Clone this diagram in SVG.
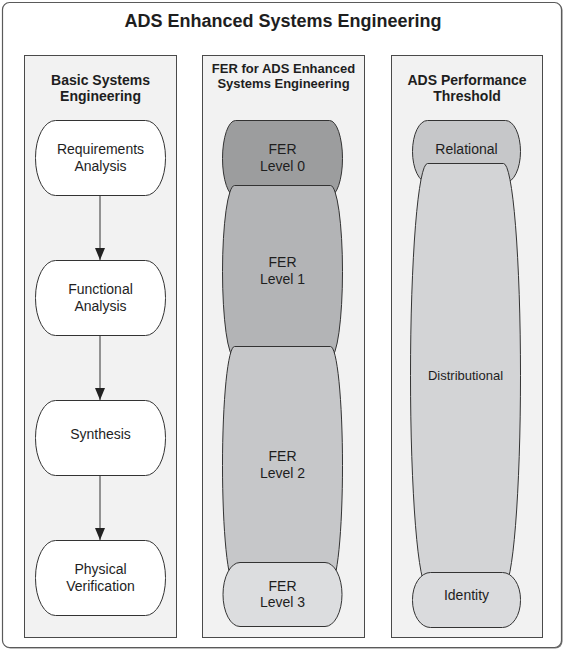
<svg xmlns="http://www.w3.org/2000/svg" width="566" height="650" viewBox="0 0 566 650">
<defs>
<style>
text{font-family:"Liberation Sans",Arial,sans-serif;fill:#1e1e1e;text-anchor:middle}
.title{font-size:18px;font-weight:bold}
.hdr{font-size:14px;font-weight:bold}
.hdr13{font-size:13px;font-weight:bold}
.lbl{font-size:14px}
.sm{font-size:14px}
.xs{font-size:13px}
.panel{fill:#f2f2f2;stroke:#4a4a4a;stroke-width:1}
.node{stroke:#333;stroke-width:1}
.conn{stroke:#333;stroke-width:1;fill:none;marker-end:url(#arr)}
</style>
<marker id="arr" viewBox="0 0 12 10" refX="12" refY="5" markerWidth="12" markerHeight="10" markerUnits="userSpaceOnUse" orient="auto">
<path d="M0,0 L12,5 L0,10 z" fill="#222"/>
</marker>
</defs>
<rect x="3.5" y="3.5" width="559" height="645" rx="7" fill="#7a7a7a"/>
<rect x="2.5" y="2.5" width="559" height="645" rx="7" fill="#ffffff" stroke="#5a5a5a" stroke-width="1.2"/>
<text class="title" x="283" y="27">ADS Enhanced Systems Engineering</text>

<g id="panel-basic">
<rect class="panel" x="24.5" y="55.5" width="152" height="582"/>
<text class="hdr" x="100.5" y="85">Basic Systems</text>
<text class="hdr" x="100.5" y="101">Engineering</text>
</g>
<g id="panel-fer">
<rect class="panel" x="202.5" y="55.5" width="162" height="582"/>
<text class="hdr13" x="283.5" y="73">FER for ADS Enhanced</text>
<text class="hdr13" x="283.5" y="88">Systems Engineering</text>
</g>
<g id="panel-ads">
<rect class="panel" x="391.5" y="55.5" width="151" height="582"/>
<text class="hdr" x="467" y="85">ADS Performance</text>
<text class="hdr" x="467" y="101">Threshold</text>
</g>

<g id="connectors">
<line class="conn" x1="100" y1="195" x2="100" y2="260"/>
<line class="conn" x1="100" y1="335" x2="100" y2="400"/>
<line class="conn" x1="100" y1="475" x2="100" y2="540"/>
</g>

<g id="req">
<rect class="node" x="35.5" y="120.5" width="130" height="75" rx="20" ry="37" fill="#fff"/>
<text class="lbl" x="100.5" y="154">Requirements</text>
<text class="lbl" x="100.5" y="171">Analysis</text>
</g>
<g id="func">
<rect class="node" x="35.5" y="260.5" width="130" height="75" rx="20" ry="37" fill="#fff"/>
<text class="lbl" x="100.5" y="294">Functional</text>
<text class="lbl" x="100.5" y="311">Analysis</text>
</g>
<g id="synth">
<rect class="node" x="35.5" y="400.5" width="130" height="75" rx="20" ry="37" fill="#fff"/>
<text class="lbl" x="100.5" y="439">Synthesis</text>
</g>
<g id="phys">
<rect class="node" x="35.5" y="540.5" width="130" height="75" rx="20" ry="37" fill="#fff"/>
<text class="lbl" x="100.5" y="574">Physical</text>
<text class="lbl" x="100.5" y="591">Verification</text>
</g>

<g id="fer0">
<rect class="node" x="222.5" y="120.5" width="120" height="76" rx="13" ry="38" fill="#9c9d9e"/>
<text class="sm" x="282.5" y="154">FER</text>
<text class="sm" x="282.5" y="171">Level 0</text>
</g>
<g id="fer1">
<rect class="node" x="222.5" y="185.5" width="120" height="172" rx="12" ry="86" fill="#b3b4b6"/>
<text class="sm" x="282.5" y="267">FER</text>
<text class="sm" x="282.5" y="284">Level 1</text>
</g>
<g id="fer2">
<rect class="node" x="222.5" y="346.5" width="120" height="238" rx="12" ry="119" fill="#c6c7c9"/>
<text class="sm" x="282.5" y="461">FER</text>
<text class="sm" x="282.5" y="478">Level 2</text>
</g>
<g id="fer3">
<rect class="node" x="223" y="562.5" width="119" height="64" rx="17" ry="32" fill="#dcdddf"/>
<text class="sm" x="282.5" y="591">FER</text>
<text class="sm" x="282.5" y="607">Level 3</text>
</g>

<g id="relational">
<rect class="node" x="412.5" y="120.5" width="108" height="62" rx="15" ry="31" fill="#c6c7c9"/>
<text class="sm" x="466.5" y="154">Relational</text>
</g>
<g id="distributional">
<rect class="node" x="410.5" y="163.5" width="110" height="424" rx="17" ry="212" fill="#d3d4d6"/>
<text class="xs" x="465.5" y="380">Distributional</text>
</g>
<g id="identity">
<rect class="node" x="412.5" y="572.5" width="108" height="55" rx="18" ry="27" fill="#dadbdd"/>
<text class="sm" x="466.5" y="600">Identity</text>
</g>
</svg>
